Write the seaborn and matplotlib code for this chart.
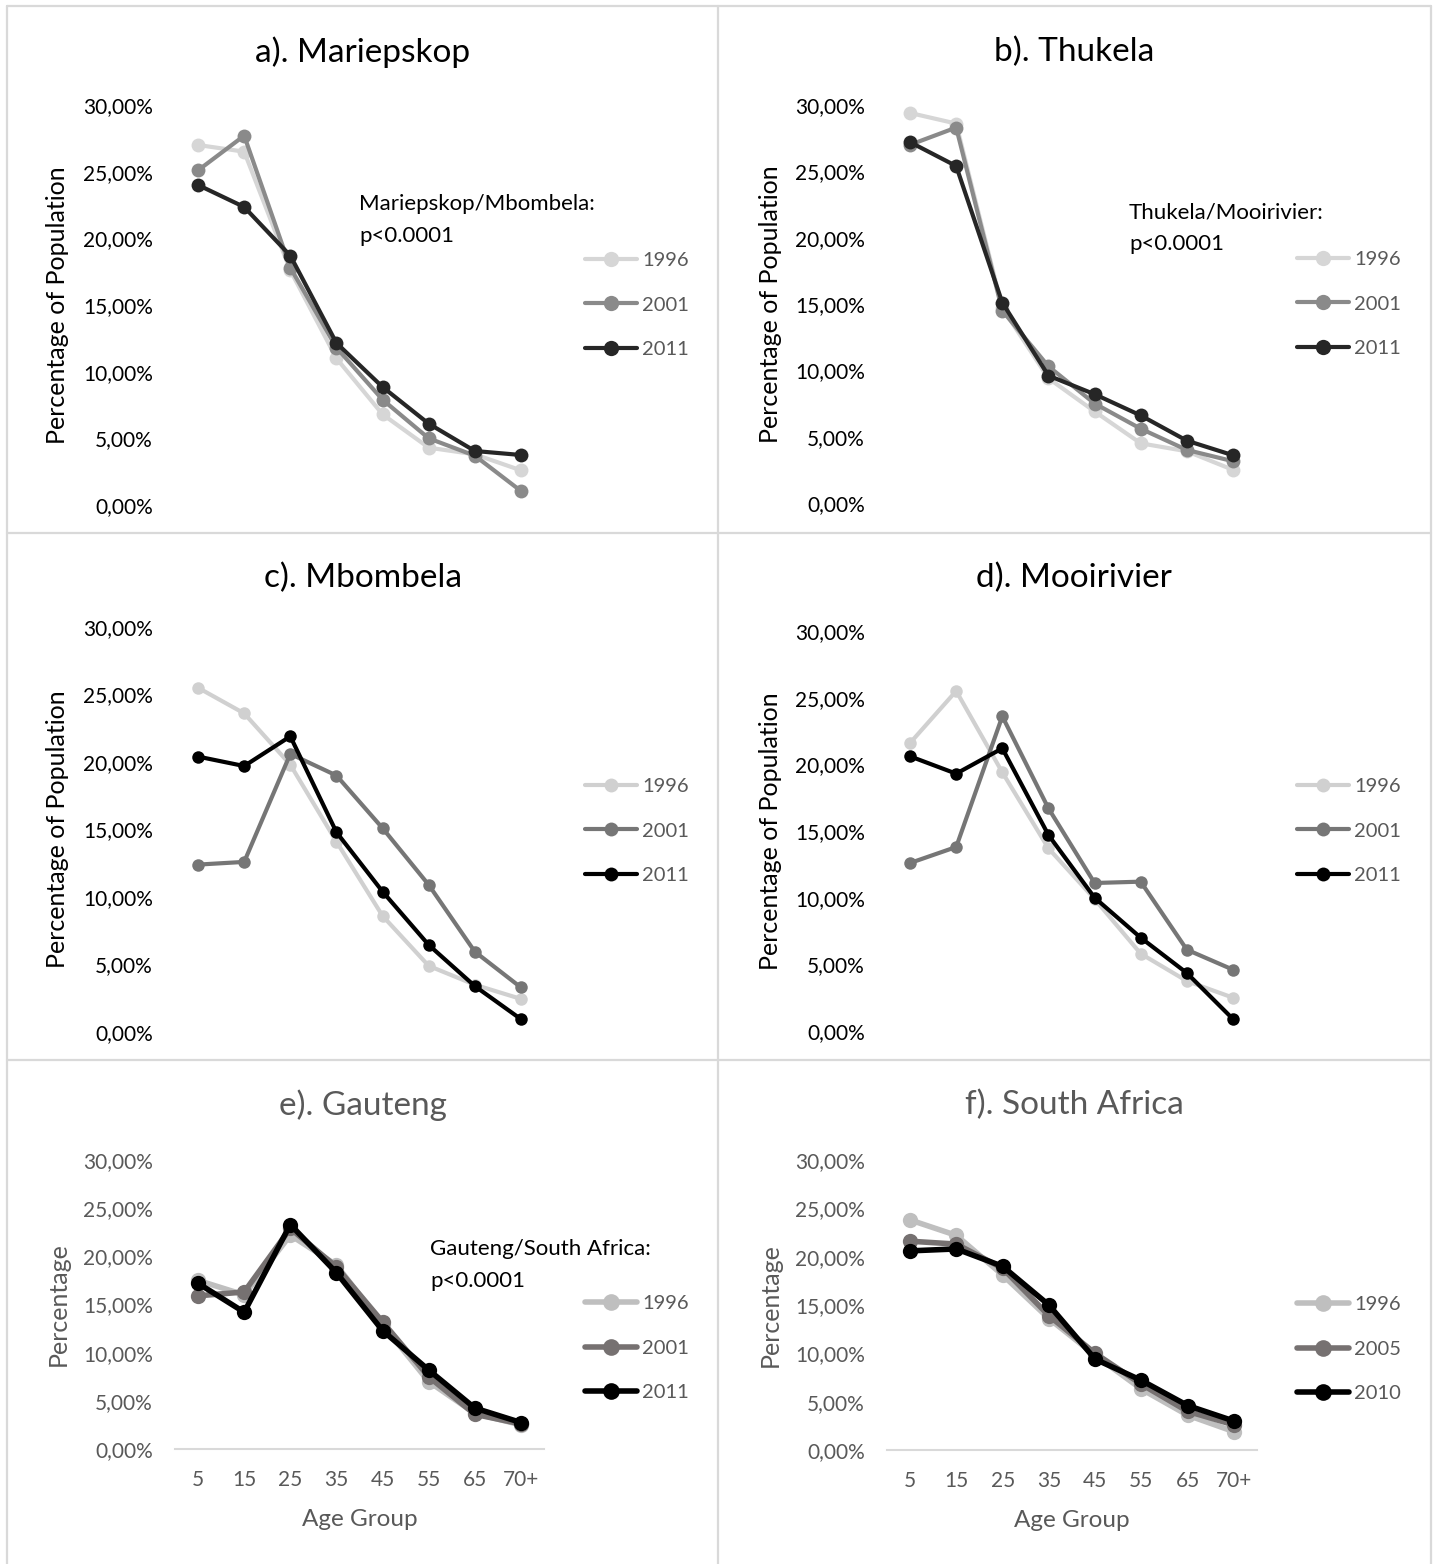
import matplotlib
matplotlib.use("Agg")
import matplotlib.pyplot as plt
import seaborn as sns
import pandas as pd
from matplotlib.lines import Line2D
from matplotlib.ticker import FuncFormatter, FixedLocator

# ---------------- data ----------------
age_groups = ["5", "15", "25", "35", "45", "55", "65", "70+"]

years_census = ["1996", "2001", "2011"]
years_sa = ["1996", "2005", "2010"]

mariepskop_1996 = [27.0, 26.5, 17.6, 11.0, 6.8, 4.3, 3.8, 2.6]
mariepskop_2001 = [25.1, 27.7, 17.8, 11.8, 7.9, 5.0, 3.7, 1.05]
mariepskop_2011 = [24.0, 22.35, 18.7, 12.15, 8.85, 6.1, 4.05, 3.75]

thukela_1996 = [29.4, 28.6, 14.7, 9.4, 6.9, 4.5, 3.9, 2.5]
thukela_2001 = [27.0, 28.3, 14.5, 10.3, 7.5, 5.6, 4.0, 3.15]
thukela_2011 = [27.2, 25.4, 15.1, 9.6, 8.2, 6.6, 4.7, 3.6]

mbombela_1996 = [25.5, 23.6, 19.8, 14.1, 8.6, 4.9, 3.5, 2.45]
mbombela_2001 = [12.4, 12.6, 20.6, 19.0, 15.1, 10.9, 5.95, 3.3]
mbombela_2011 = [20.4, 19.7, 21.9, 14.8, 10.4, 6.45, 3.4, 0.95]

mooirivier_1996 = [21.6, 25.5, 19.4, 13.7, 9.9, 5.8, 3.75, 2.5]
mooirivier_2001 = [12.6, 13.8, 23.6, 16.7, 11.1, 11.2, 6.1, 4.6]
mooirivier_2011 = [20.6, 19.3, 21.2, 14.7, 10.0, 7.0, 4.35, 0.9]

gauteng_1996 = [17.5, 16.0, 22.2, 19.1, 12.9, 7.0, 3.7, 2.5]
gauteng_2001 = [15.9, 16.3, 22.9, 18.9, 13.2, 7.5, 3.6, 2.6]
gauteng_2011 = [17.2, 14.2, 23.3, 18.3, 12.3, 8.2, 4.25, 2.75]

sa_1996 = [23.8, 22.2, 18.1, 13.6, 9.8, 6.3, 3.6, 1.9]
sa_2005 = [21.6, 21.3, 18.8, 13.9, 10.0, 6.8, 4.0, 2.6]
sa_2010 = [20.6, 20.8, 19.0, 15.0, 9.4, 7.2, 4.6, 3.0]

y_ticks = [0, 5, 10, 15, 20, 25, 30]

# ---------------- style ----------------
sns.set_theme(style="white")
plt.rcParams["font.family"] = ["Lato", "DejaVu Sans"]

W, H = 1436, 1564
fig = plt.figure(figsize=(W / 100, H / 100), dpi=100)
fig.patch.set_facecolor("white")


def fx(px):
    return px / W


def fy(py):
    return 1 - py / H


GRAY_TXT = "#595959"
BORDER = "#d9d9d9"

panels = [
    dict(title="a). Mariepskop", years=years_census,
         series=[mariepskop_1996, mariepskop_2001, mariepskop_2011],
         colors=["#d6d6d6", "#8a8a8a", "#262626"],
         box=(175, 544, 505, 105), title_xy=(363, 52), legend_xy=(585, 305),
         ylabel="Percentage of Population", note="Mariepskop/Mbombela:\np<0.0001",
         note_xy=(359, 220), xaxis=False, txt="#000000", lw=3.0, ms=10),
    dict(title="b). Thukela", years=years_census,
         series=[thukela_1996, thukela_2001, thukela_2011],
         colors=["#d6d6d6", "#8a8a8a", "#262626"],
         box=(887, 1256, 503, 105), title_xy=(1074, 52), legend_xy=(1297, 304),
         ylabel="Percentage of Population", note="Thukela/Mooirivier:\np<0.0001",
         note_xy=(1129, 228), xaxis=False, txt="#000000", lw=3.0, ms=10),
    dict(title="c). Mbombela", years=years_census,
         series=[mbombela_1996, mbombela_2001, mbombela_2011],
         colors=["#d0d0d0", "#767676", "#000000"],
         box=(175, 544, 1032, 627), title_xy=(363, 578), legend_xy=(585, 831),
         ylabel="Percentage of Population", note=None, note_xy=None,
         xaxis=False, txt="#000000", lw=3.0, ms=9),
    dict(title="d). Mooirivier", years=years_census,
         series=[mooirivier_1996, mooirivier_2001, mooirivier_2011],
         colors=["#d0d0d0", "#767676", "#000000"],
         box=(887, 1256, 1031, 631), title_xy=(1074, 578), legend_xy=(1297, 831),
         ylabel="Percentage of Population", note=None, note_xy=None,
         xaxis=False, txt="#000000", lw=3.0, ms=9),
    dict(title="e). Gauteng", years=years_census,
         series=[gauteng_1996, gauteng_2001, gauteng_2011],
         colors=["#bfbfbf", "#767171", "#000000"],
         box=(175, 544, 1449, 1160), title_xy=(363, 1105), legend_xy=(585, 1348),
         ylabel="Percentage", note="Gauteng/South Africa:\np<0.0001",
         note_xy=(430, 1265), xaxis=True, txt=GRAY_TXT, lw=4.0, ms=11),
    dict(title="f). South Africa", years=years_sa,
         series=[sa_1996, sa_2005, sa_2010],
         colors=["#bfbfbf", "#767171", "#000000"],
         box=(887, 1257, 1450, 1160), title_xy=(1074, 1105), legend_xy=(1297, 1349),
         ylabel="Percentage", note=None, note_xy=None,
         xaxis=True, txt=GRAY_TXT, lw=4.0, ms=11),
]

pct_fmt = FuncFormatter(lambda v, p: f"{v:.2f}%".replace(".", ","))

for p in panels:
    x0, x1, yb, yt = p["box"]
    ax = fig.add_axes([fx(x0), fy(yb), (x1 - x0) / W, (yb - yt) / H])
    ax.set_facecolor("none")

    rows = []
    for yr, vals in zip(p["years"], p["series"]):
        for a, v in zip(age_groups, vals):
            rows.append({"Age Group": a, "Percent": v, "Year": yr})
    df = pd.DataFrame(rows)
    palette = dict(zip(p["years"], p["colors"]))

    sns.lineplot(data=df, x="Age Group", y="Percent", hue="Year",
                 hue_order=p["years"], palette=palette, marker="o",
                 markersize=p["ms"], markeredgewidth=0, linewidth=p["lw"],
                 sort=False, ax=ax, legend=True)

    ax.set_xlim(-0.5, 7.5)
    ax.set_ylim(0, 30)
    ax.yaxis.set_major_locator(FixedLocator(y_ticks))
    ax.yaxis.set_major_formatter(pct_fmt)
    ax.tick_params(axis="y", length=0, pad=16, labelsize=15, labelcolor=p["txt"])
    ax.grid(False)
    for s in ["top", "right", "left"]:
        ax.spines[s].set_visible(False)

    if p["xaxis"]:
        ax.spines["bottom"].set_visible(True)
        ax.spines["bottom"].set_color(BORDER)
        ax.spines["bottom"].set_linewidth(1.5)
        ax.tick_params(axis="x", length=0, pad=15, labelsize=15, labelcolor=GRAY_TXT)
        ax.set_xlabel("Age Group", fontsize=17.5, color=GRAY_TXT, labelpad=14)
    else:
        ax.spines["bottom"].set_visible(False)
        ax.tick_params(axis="x", length=0, labelbottom=False)
        ax.set_xlabel("")

    ax.set_ylabel(p["ylabel"], fontsize=18, color=p["txt"])
    ax.yaxis.label.set_va("center")
    ax.yaxis.set_label_coords(-117 / (x1 - x0), 0.5)

    old = ax.get_legend()
    handles = old.legend_handles
    labels = [t.get_text() for t in old.get_texts()]
    old.remove()
    for h in handles:
        h.set_markersize(p["ms"] + 1)
    ax.legend(handles, labels, loc="center left",
              bbox_to_anchor=(fx(p["legend_xy"][0]), fy(p["legend_xy"][1])),
              bbox_transform=fig.transFigure, frameon=False, fontsize=14.5,
              handlelength=2.6, handletextpad=0.25, labelspacing=1.35,
              borderpad=0, borderaxespad=0, labelcolor=GRAY_TXT)

    fig.text(fx(p["title_xy"][0]), fy(p["title_xy"][1]), p["title"],
             ha="center", va="center", fontsize=24, color=p["txt"])
    if p["note"]:
        fig.text(fx(p["note_xy"][0]), fy(p["note_xy"][1]), p["note"],
                 ha="left", va="center", fontsize=16, color="#000000",
                 linespacing=1.7)

# panel borders
def hline(y, xa, xb):
    fig.add_artist(Line2D([fx(xa), fx(xb)], [fy(y), fy(y)],
                          transform=fig.transFigure, color=BORDER, lw=1.6))


def vline(x, ya, yb):
    fig.add_artist(Line2D([fx(x), fx(x)], [fy(ya), fy(yb)],
                          transform=fig.transFigure, color=BORDER, lw=1.6))


hline(6, 7, 1431)
hline(533, 7, 1431)
hline(1060, 7, 1431)
vline(7, 6, 1564)
vline(718, 6, 1564)
vline(1431, 6, 1564)

fig.savefig("out.png", dpi=100, facecolor="white")
